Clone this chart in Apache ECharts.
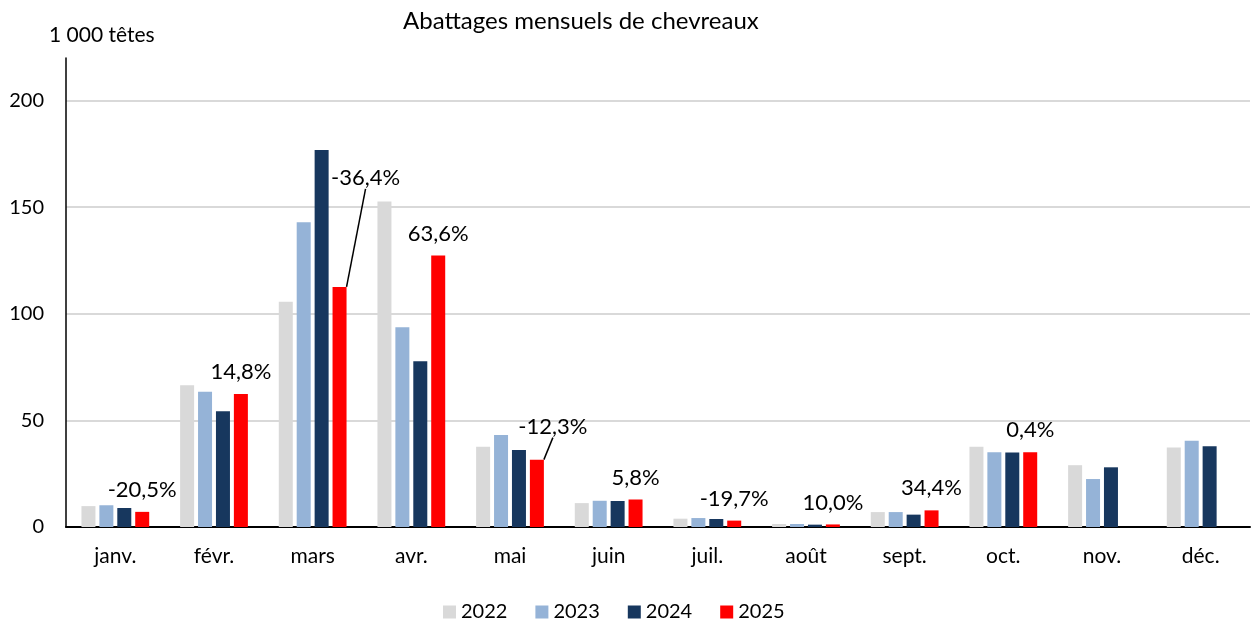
<!DOCTYPE html>
<html>
<head>
<meta charset="utf-8">
<script src="https://cdn.jsdelivr.net/npm/echarts@6/dist/echarts.min.js"></script>
<style>
  html, body { margin: 0; padding: 0; background: #fff; }
  #chart { width: 1252px; height: 620px; }
</style>
</head>
<body>
<div id="chart"></div>
<script>
var months = ["janv.", "févr.", "mars", "avr.", "mai", "juin", "juil.", "août", "sept.", "oct.", "nov.", "déc."];
var years = ["2022", "2023", "2024", "2025"];
var v2022 = [9.8, 66.5, 105.7, 152.7, 37.6, 11.2, 3.9, 1.4, 7.0, 37.6, 29.0, 37.3];
var v2023 = [10.2, 63.4, 143, 93.7, 43.1, 12.3, 4.2, 1.4, 7.0, 35.1, 22.5, 40.4];
var v2024 = [8.9, 54.3, 176.9, 77.8, 36.1, 12.2, 3.75, 1.1, 5.8, 35.0, 28.0, 37.9];
var v2025 = [7.1, 62.4, 112.6, 127.3, 31.6, 12.9, 3.0, 1.2, 7.8, 35.1, null, null];
var changes = ["-20,5%", "14,8%", "-36,4%", "63,6%", "-12,3%", "5,8%", "-19,7%", "10,0%", "34,4%", "0,4%", "", ""];
var colors = ["#d9d9d9", "#95b3d7", "#17375e", "#ff0000"];

// labels pulled off their bar with a leader line
var moved = { 2: [26, -87], 4: [16, -11] };

var font = "Lato";
var fs = 20;
var dom = document.getElementById("chart");
var myChart = echarts.init(dom, null, { renderer: "canvas" });

var data2025 = v2025.map(function (v, i) {
  return moved[i] ? { value: v, labelLine: { show: true } } : v;
});

var seriesValues = [v2022, v2023, v2024, data2025];
var series = seriesValues.map(function (vals, k) {
  var s = {
    name: years[k],
    type: "bar",
    data: vals,
    barWidth: 14,
    barGap: "28%",
    itemStyle: { color: colors[k] }
  };
  if (k === 3) {
    s.label = {
      show: true,
      position: "top",
      distance: 11,
      fontFamily: font,
      fontSize: 22,
      color: "#000",
      formatter: function (p) { return changes[p.dataIndex]; }
    };
    s.labelLine = { show: false, lineStyle: { color: "#000", width: 1.5 } };
    s.labelLayout = function (p) {
      var m = moved[p.dataIndex];
      return m ? { dx: m[0], dy: m[1] } : {};
    };
  }
  return s;
});

var option = {
  animation: false,
  color: colors,
  textStyle: { fontFamily: font },
  title: {
    text: "Abattages mensuels de chevreaux",
    left: 398,
    top: 4,
    textStyle: { fontFamily: font, fontSize: 24, fontWeight: "normal", color: "#000" }
  },
  legend: {
    data: years,
    top: 597,
    left: 438,
    itemWidth: 13,
    itemHeight: 13,
    itemGap: 28,
    icon: "rect",
    textStyle: { fontFamily: font, fontSize: fs, color: "#000" }
  },
  grid: { left: 66, right: 2, top: 58, bottom: 93, containLabel: false },
  xAxis: {
    type: "category",
    data: months,
    axisLine: { lineStyle: { color: "#000", width: 2 } },
    axisTick: { show: false },
    axisLabel: { fontFamily: font, fontSize: 21, color: "#000", margin: 19 }
  },
  yAxis: {
    type: "value",
    min: 0,
    max: 220,
    interval: 50,
    name: "1 000 têtes",
    nameLocation: "end",
    nameGap: 12,
    nameTextStyle: { fontFamily: font, fontSize: 21, color: "#000", align: "left", padding: [0, 0, 0, -17] },
    axisLine: { show: true, lineStyle: { color: "#000", width: 1.5 } },
    axisTick: { show: false },
    axisLabel: { fontFamily: font, fontSize: fs, color: "#000", margin: 22, showMaxLabel: false },
    splitLine: { show: true, showMaxLine: false, lineStyle: { color: "#d9d9d9", width: 2 } }
  },
  series: series
};
myChart.setOption(option, true);
</script>
</body>
</html>
